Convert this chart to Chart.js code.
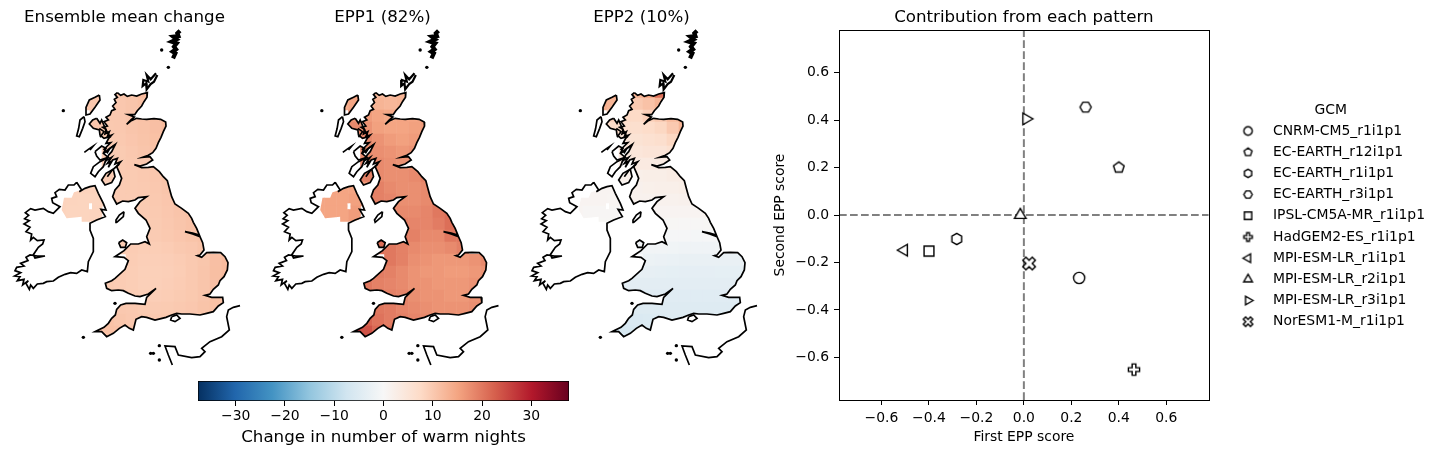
<!DOCTYPE html>
<html>
<head>
<meta charset="utf-8">
<title>EPP warm nights</title>
<script src="https://cdn.jsdelivr.net/npm/chart.js@4"></script>
<style>
  html, body { margin: 0; padding: 0; background: #fff; overflow: hidden; }
  canvas { position: absolute; }
</style>
</head>
<body>
<canvas id="map0" width="249" height="370" style="left:0;top:0"></canvas>
<canvas id="map1" width="249" height="370" style="left:258px;top:0"></canvas>
<canvas id="map2" width="249" height="370" style="left:517px;top:0"></canvas>
<canvas id="colorbar" width="450" height="82" style="left:160px;top:372px"></canvas>
<canvas id="scatter" width="670" height="454" style="left:770px;top:0"></canvas>
<script>
// DATA

const _ = null;

const modelNames = ["CNRM-CM5_r1i1p1", "EC-EARTH_r12i1p1", "EC-EARTH_r1i1p1", "EC-EARTH_r3i1p1", "IPSL-CM5A-MR_r1i1p1",
  "HadGEM2-ES_r1i1p1", "MPI-ESM-LR_r1i1p1", "MPI-ESM-LR_r2i1p1", "MPI-ESM-LR_r3i1p1", "NorESM1-M_r1i1p1"];
const modelMarkers = ["circle", "pentagon", "hexPointy", "hexFlat", "square", "plus", "triLeft", "triUp", "triRight", "cross"];
const firstScores = [0.233, 0.40, -0.283, 0.26, -0.40, 0.464, -0.505, -0.015, 0.01, 0.022];
const secondScores = [-0.265, 0.20, -0.101, 0.454, -0.152, -0.651, -0.148, 0.0, 0.405, -0.204];

const mapTitles = ["Ensemble mean change", "EPP1 (82%)", "EPP2 (10%)"];
const colorStops = ["#053061", "#2166ac", "#4393c3", "#92c5de", "#d1e5f0", "#f7f7f7", "#fddbc7", "#f4a582", "#d6604d", "#b2182b", "#67001f"];
const colorLimit = 37.65;
const colorTicks = [-30, -20, -10, 0, 10, 20, 30];

// grid of the change cells, map units
const cellCols = [180, 216, 252, 288, 324, 360, 396, 432, 468, 504, 540, 576, 612, 648, 684];
const cellRows = [216, 252, 288, 324, 360, 396, 432, 468, 504, 540, 576, 612, 648, 684, 720, 756, 792, 828, 864, 900, 936];

const meanChange = [
  [_, _, _, 10.5, 10.8, 10.6, 10.8, 12],
  [_, _, 10.5, 10.5, 10.4, 10.3, 10.6, 11.2],
  [_, _, _, 10.5, 10.2, 10.2, 10.6, 11, 11.5, 12.5],
  [_, _, _, 10.4, 10, 10.2, 10.6, 10.9, 11.4, 12.2],
  [_, _, _, _, 9.8, 10, 10.4, 10.8, 11.2],
  [_, _, _, _, 9.6, 9.8, 10.2, 10.6, 11],
  [_, _, _, _, 9.6, 9.8, 10, 10.2, 10.5],
  [_, _, _, _, 9.6, 9.7, 9.8, 10, 10.3, 10.8],
  [_, 8.6, 8.6, 8.6, 8.7, 9.7, 9.8, 9.9, 10.2, 10.6, 11],
  [8.6, 8.5, 8.4, 8.4, 8.6, 9.7, 9.7, 9.8, 10, 10.4, 10.8],
  [8.6, 8.4, 8.4, 8.5, _, _, 9.6, 9.7, 9.9, 10.3, 10.7, 11.2],
  [_, 8.4, 8.4, 8.5, _, _, _, 9.6, 9.8, 10.2, 10.6, 11],
  [_, _, _, _, _, 10.2, _, 9.5, 9.7, 10, 10.4, 10.8, 11],
  [_, _, _, _, _, 9.8, 9.6, 9.4, 9.4, 9.6, 10, 10.3, 10.8],
  [_, _, _, _, _, _, 9.5, 9.2, 9.2, 9.3, 9.6, 10, 10.5, 11.4, 12],
  [_, _, _, _, _, 9.6, 9.4, 9.1, 9.1, 9.2, 9.5, 10, 10.6, 11.5, 12],
  [_, _, _, _, 9.8, 9.6, 9.4, 9.1, 9.1, 9.3, 9.6, 10, 10.6, 11.4],
  [_, _, _, _, 10, 9.8, 9.5, 9.3, 9.3, 9.5, 9.8, 10.1, 10.6, 11.2, 11.4],
  [_, _, _, _, _, 10.2, 10, 9.8, 9.7, 9.8, 10, 10.3, 10.8, 11.2],
  [_, _, _, _, 11, 10.5, 10.2, 10.1, 10, 10.1, 10.3, 10.6, 11],
  [_, _, _, 11.4, 11.2, 11, 10.8]
];

const epp1Change = [
  [_, _, _, 15, 12.5, 12, 12, 13],
  [_, _, 14, 15, 14, 13, 12.5, 13],
  [_, _, _, 17, 16, 15, 14.5, 15, 15, 16],
  [_, _, _, 18, 17, 15.5, 15, 15, 15.5, 16],
  [_, _, _, _, 18, 17, 16, 15.5, 16],
  [_, _, _, _, 18, 17.5, 17, 16.5, 17],
  [_, _, _, _, 19, 18, 17.5, 17, 17.5],
  [_, _, _, _, 19, 18, 17.5, 17.5, 18, 19],
  [_, 15, 15, 15, 16, 19, 18, 17.5, 17.5, 18, 19],
  [15, 15, 15, 15.5, 16.5, 19, 18.5, 17.5, 17.5, 18, 20],
  [15, 15, 15, 16, _, _, 19, 18, 18, 18.5, 20, 21],
  [_, 15, 15, 16, _, _, _, 19, 18.5, 18.5, 19.5, 21],
  [_, _, _, _, _, 27, _, 19.5, 19, 18, 18, 20, 20],
  [_, _, _, _, _, 21, 20, 19, 18, 17.5, 17.5, 18, 19],
  [_, _, _, _, _, _, 20, 19, 17.5, 17, 16.5, 16.5, 16.5, 17, 18],
  [_, _, _, _, _, 19.5, 19, 18, 17, 16.5, 16.5, 16, 16, 16.5, 17],
  [_, _, _, _, 20, 19, 18.5, 18, 17, 17, 16.5, 16.5, 16.5, 17],
  [_, _, _, _, 20, 19.5, 19, 18.5, 17.5, 17, 17, 16.5, 16.5, 17, 17.5],
  [_, _, _, _, _, 20, 19.5, 18.5, 18, 17.5, 17, 17, 17, 17.5],
  [_, _, _, _, 22, 20.5, 19.5, 19, 18.5, 18, 17.5, 17.5, 18],
  [_, _, _, 27, 24, 21.5, 20.5]
];

const epp2Change = [
  [_, _, _, 15, 14, 13, 15, 21],
  [_, _, 14, 13, 10, 10, 11, 13],
  [_, _, _, 9, 7.5, 7.5, 9, 10, 12, 15],
  [_, _, _, 7, 6.5, 6.5, 7, 8, 10, 13],
  [_, _, _, _, 5, 5.5, 6, 6.5, 8],
  [_, _, _, _, 4, 4.5, 5, 5, 6],
  [_, _, _, _, 3, 3.5, 3.5, 3.5, 4],
  [_, _, _, _, 2, 2.2, 2.5, 2.5, 3, 3],
  [_, 1, 1, 1, 1, 1.8, 2, 2.2, 2.2, 2.5, 2.5],
  [1, 1, 1, 0.8, 0.8, 1.5, 1.5, 1.6, 1.6, 1.8, 2],
  [0.8, 0.5, 0.5, 0.5, _, _, 1, 1, 1, 1, 1, 1.2],
  [_, 0.4, 0.4, 0.4, _, _, _, 0.5, 0.4, 0.3, 0.3, 0.4],
  [_, _, _, _, _, 0.3, _, 0, -0.3, -0.4, -0.5, -0.4, -0.4],
  [_, _, _, _, _, -1.2, -1.2, -1.2, -1.4, -1.6, -1.6, -1.6, -1.4],
  [_, _, _, _, _, _, -2.2, -2.4, -2.6, -2.8, -2.8, -2.8, -2.8, -2.8, -2.8],
  [_, _, _, _, _, -3.2, -3.2, -3.4, -3.5, -3.6, -3.6, -3.6, -3.5, -3.5, -3.5],
  [_, _, _, _, -4, -4, -4, -4, -4, -4, -4, -4, -4, -4],
  [_, _, _, _, -4.6, -4.6, -4.6, -4.5, -4.6, -4.6, -4.6, -4.6, -4.5, -4.5, -4.5],
  [_, _, _, _, _, -5, -5, -5, -5, -5, -5, -5, -5, -5],
  [_, _, _, _, -5.8, -5.8, -5.6, -5.4, -5.2, -5.2, -5.2, -5.2, -5.2],
  [_, _, _, -6.4, -6.4, -6.2, -6]
];

const changeFields = [meanChange, epp1Change, epp2Change];

// coast outlines, map units (x east, y south)
const gbCoast = [[352,218],[362,226],[372,222],[382,229],[395,225],[410,228],[425,222],[442,218],[441,232],[432,245],[425,258],[412,272],[404,284],[385,284],[403,291],[392,300],[380,313],[392,303],[410,295],[425,297],[440,298],[462,296],[482,298],[497,306],[498,318],[490,335],[483,352],[475,368],[468,385],[458,398],[445,406],[428,412],[450,410],[458,420],[440,432],[420,438],[403,434],[425,443],[445,442],[460,440],[478,455],[490,470],[502,482],[508,505],[515,530],[525,552],[545,565],[565,580],[575,595],[580,607],[590,625],[598,645],[578,639],[555,635],[578,642],[600,650],[608,668],[612,690],[600,705],[592,707],[605,712],[620,698],[640,697],[662,698],[675,710],[684,728],[682,750],[672,770],[660,782],[655,795],[640,808],[630,822],[615,826],[635,832],[668,832],[670,848],[655,858],[640,875],[620,880],[600,885],[570,882],[545,882],[530,880],[515,885],[498,892],[465,900],[440,892],[425,890],[408,898],[400,930],[388,925],[375,915],[358,925],[340,940],[320,950],[305,935],[285,935],[295,930],[312,922],[325,910],[335,895],[346,885],[350,868],[362,855],[378,850],[405,850],[435,853],[440,832],[468,805],[445,822],[420,830],[405,828],[385,820],[370,812],[355,810],[335,812],[320,805],[316,790],[335,782],[345,775],[375,748],[385,722],[372,712],[345,710],[372,692],[392,672],[415,672],[435,665],[448,672],[440,650],[450,625],[438,600],[415,580],[405,565],[420,545],[440,530],[415,533],[405,540],[385,545],[368,543],[350,552],[338,530],[345,510],[358,495],[365,475],[358,458],[350,440],[362,425],[345,432],[352,415],[338,420],[325,442],[332,425],[322,430],[335,412],[318,422],[326,405],[335,395],[346,373],[330,385],[322,398],[312,388],[322,378],[332,368],[318,370],[326,355],[335,345],[322,350],[328,335],[315,342],[318,328],[308,322],[322,318],[312,305],[325,300],[318,292],[330,285],[335,272],[345,268],[338,258],[348,248],[343,238],[352,232],[345,224]];
const irelandCoast = [[230,487],[245,510],[238,515],[255,505],[270,500],[285,497],[295,520],[310,550],[318,570],[303,568],[316,590],[290,600],[270,610],[270,630],[280,655],[280,695],[265,725],[262,755],[245,750],[230,760],[212,758],[195,763],[175,772],[160,783],[140,785],[130,790],[112,792],[100,805],[92,795],[88,808],[78,790],[85,782],[68,795],[72,778],[52,782],[60,770],[44,768],[62,758],[45,752],[50,742],[72,738],[62,730],[84,722],[78,712],[90,705],[112,708],[135,708],[105,714],[100,704],[115,682],[128,672],[132,660],[112,662],[100,652],[92,660],[95,642],[78,635],[90,622],[72,612],[88,602],[74,596],[86,586],[76,578],[92,566],[105,570],[130,565],[145,575],[160,580],[180,560],[158,548],[155,535],[170,530],[165,518],[178,508],[195,510],[205,495],[222,495]];
const lewisCoast = [[298,225],[300,240],[285,262],[270,282],[258,285],[258,262],[268,240],[285,232]];
const uistCoast = [[252,290],[255,305],[248,325],[238,350],[230,348],[236,325],[240,300]];
const skyeCoast = [[290,295],[300,310],[305,300],[318,330],[330,350],[312,355],[300,345],[298,330],[280,325],[268,312],[278,300]];
const mullCoast = [[285,395],[305,378],[318,385],[310,400],[325,412],[300,420],[290,408]];
const juraCoast = [[300,425],[320,415],[310,440],[295,455],[285,470],[272,460],[280,440]];
const kintyreCoast = [[340,448],[345,470],[335,488],[315,495],[305,480],[318,460]];
const angleseyCoast = [[356,668],[368,660],[380,668],[376,682],[362,682]];
const manCoast = [[372,575],[370,590],[350,607],[348,600],[358,585]];
const wightCoast = [[515,890],[530,885],[540,895],[525,905],[512,900]];
const orkneyCoast = [[468,160],[452,178],[440,165],[445,185],[430,180],[428,198],[438,190],[440,208],[452,192],[462,185],[472,165]];
const shetlandCoast = [[540,32],[532,40],[535,48],[520,50],[530,58],[515,65],[530,70],[522,80],[528,88],[518,95],[526,100],[519,115]];
const collCoast = [[253,397],[265,388],[280,378],[270,390]];
const lochOne = [[345,375],[325,388],[312,400]];
const lochTwo = [[358,432],[335,452],[322,470]];
const lochThree = [[298,325],[312,335],[300,352]];
const franceCoast = [[720,857],[700,862],[685,870],[680,890],[688,930],[665,950],[630,965],[605,985],[615,995],[600,1010],[575,1013],[535,1005],[525,980],[495,978],[505,1005],[517,1035]];
const islandDots = [[485,90],[505,142],[190,272],[250,952],[345,850],[460,1000],[478,1020],[478,977],[452,1000]];

// NI part of the Irish coast that has cells, blocky like the grid
const niCells = [[192,533],[215,533],[222,517],[245,510],[285,497],[310,550],[318,572],[300,600],[270,605],[245,605],[245,590],[200,595],[185,570]];
const niNotch = [[267,550],[276,550],[276,568],[267,568]];

const closedCoasts = [gbCoast, irelandCoast, lewisCoast, uistCoast, skyeCoast, mullCoast, juraCoast, kintyreCoast, angleseyCoast, manCoast, wightCoast];
const openCoasts = [franceCoast, collCoast, lochOne, lochTwo, lochThree];
const cellMasks = [gbCoast, lewisCoast, uistCoast, skyeCoast, mullCoast, juraCoast, kintyreCoast, angleseyCoast, niCells, niNotch];

// COLOUR

function hexToRgb(hex) {
  return [1, 3, 5].map(i => parseInt(hex.slice(i, i + 2), 16));
}

function colorFor(value) {
  const pos = (value + colorLimit) / (2 * colorLimit) * (colorStops.length - 1);
  const low = Math.max(0, Math.min(colorStops.length - 2, Math.floor(pos)));
  const t = pos - low;
  const a = hexToRgb(colorStops[low]);
  const b = hexToRgb(colorStops[low + 1]);
  const mix = a.map((c, i) => Math.round(c + (b[i] - c) * t));
  return `rgb(${mix[0]},${mix[1]},${mix[2]})`;
}

// MAP PANELS

const fontFamily = "'DejaVu Sans'";
Chart.defaults.font.family = fontFamily;
Chart.defaults.color = "#000";
Chart.defaults.animation = false;

function toPoints(list) {
  return list.map(p => ({ x: p[0], y: p[1] }));
}

function coastDataset(list, closed, width) {
  const pts = toPoints(closed ? list.concat([list[0]]) : list);
  return { data: pts, showLine: true, borderColor: "#000", borderWidth: width, pointRadius: 0, fill: false, order: 1 };
}

function cellPoints(field) {
  const pts = [];
  field.forEach((row, j) => {
    row.forEach((v, i) => {
      if (v !== null) pts.push({ x: cellCols[i], y: cellRows[j], v: v });
    });
  });
  return pts;
}

// the cells only show inside the land outlines
const maskPlugin = {
  id: "cellMask",
  beforeDatasetDraw(chart, args) {
    if (args.index !== 0) return;
    const ctx = chart.ctx;
    const xs = chart.scales.x, ys = chart.scales.y;
    ctx.save();
    ctx.beginPath();
    cellMasks.forEach(ring => {
      ring.forEach((p, i) => {
        const px = xs.getPixelForValue(p[0]), py = ys.getPixelForValue(p[1]);
        if (i === 0) ctx.moveTo(px, py); else ctx.lineTo(px, py);
      });
      ctx.closePath();
    });
    ctx.clip("evenodd");
  },
  afterDatasetDraw(chart, args) {
    if (args.index === 0) chart.ctx.restore();
  }
};

const panelShift = [0, -1.5, 0];

mapTitles.forEach((title, n) => {
  const datasets = [{
    data: cellPoints(changeFields[n]),
    pointStyle: "rect",
    pointRadius: 8.9,
    pointBorderWidth: 0,
    pointBackgroundColor: c => colorFor(c.raw.v),
    order: 2
  }];
  closedCoasts.forEach(c => datasets.push(coastDataset(c, true, 1.7)));
  openCoasts.forEach(c => datasets.push(coastDataset(c, false, 1.7)));
  datasets.push(coastDataset(orkneyCoast, false, 2.2));
  datasets.push(coastDataset(shetlandCoast, false, 4.2));
  datasets.push({ data: toPoints(islandDots), pointRadius: 1.7, pointBackgroundColor: "#000", pointBorderWidth: 0, order: 1 });

  new Chart(document.getElementById("map" + n), {
    type: "scatter",
    data: { datasets },
    plugins: [maskPlugin],
    options: {
      responsive: false,
      layout: { padding: 0, autoPadding: false },
      plugins: {
        legend: { display: false },
        tooltip: { enabled: false },
        title: { display: true, text: title, font: { size: 16.67, weight: "normal" }, padding: { top: 7.5, bottom: 0 } }
      },
      scales: {
        x: { type: "linear", display: false, min: panelShift[n], max: 747 + panelShift[n] },
        y: { type: "linear", display: false, reverse: true, min: 22.5, max: 1050 }
      }
    }
  });
});

// COLOURBAR

new Chart(document.getElementById("colorbar"), {
  type: "bar",
  data: {
    labels: [""],
    datasets: [{
      data: [[-colorLimit, colorLimit]],
      borderColor: "#000",
      borderWidth: 1,
      borderSkipped: false,
      barPercentage: 1,
      categoryPercentage: 1,
      backgroundColor: c => {
        const xs = c.chart.scales.x;
        if (!xs || !Number.isFinite(xs.left) || !Number.isFinite(xs.right)) return "#fff";
        const g = c.chart.ctx.createLinearGradient(xs.left, 0, xs.right, 0);
        colorStops.forEach((col, i) => g.addColorStop(i / (colorStops.length - 1), col));
        return g;
      }
    }]
  },
  options: {
    indexAxis: "y",
    responsive: false,
    layout: { padding: { left: 38, right: 41, top: 9 }, autoPadding: false },
    plugins: { legend: { display: false }, tooltip: { enabled: false } },
    scales: {
      y: { display: false },
      x: {
        type: "linear",
        min: -colorLimit,
        max: colorLimit,
        afterFit(scale) { scale.height = 53; },
        afterBuildTicks(scale) { scale.ticks = colorTicks.map(v => ({ value: v })); },
        grid: { drawOnChartArea: false, color: "#000", tickLength: 5 },
        border: { display: false },
        ticks: {
          autoSkip: false, maxRotation: 0, padding: 2, font: { size: 13.9 },
          callback: v => String(v).replace("-", "\u2212")
        },
        title: { display: true, text: "Change in number of warm nights", font: { size: 16.67 }, padding: { top: 2, bottom: 6 } }
      }
    }
  }
});

// SCATTER

function markerPath(ctx, name, r) {
  const poly = (n, start, grow) => {
    for (let i = 0; i < n; i++) {
      const a = start + i * 2 * Math.PI / n;
      ctx.lineTo(r * grow * Math.cos(a), r * grow * Math.sin(a));
    }
    ctx.closePath();
  };
  const path = pts => {
    pts.forEach(p => ctx.lineTo(p[0] * r, p[1] * r));
    ctx.closePath();
  };
  const plusArm = [[-0.33, -1], [0.33, -1], [0.33, -0.33], [1, -0.33], [1, 0.33], [0.33, 0.33], [0.33, 1], [-0.33, 1], [-0.33, 0.33], [-1, 0.33], [-1, -0.33], [-0.33, -0.33]];
  ctx.beginPath();
  if (name === "circle") ctx.arc(0, 0, r, 0, 2 * Math.PI);
  if (name === "pentagon") poly(5, -Math.PI / 2, 1);
  if (name === "hexPointy") poly(6, -Math.PI / 2, 1);
  if (name === "hexFlat") poly(6, 0, 1);
  if (name === "square") ctx.rect(-r * 0.88, -r * 0.88, r * 1.76, r * 1.76);
  if (name === "plus") path(plusArm);
  if (name === "cross") {
    const c = Math.SQRT1_2 * 1.2;
    path(plusArm.map(p => [(p[0] - p[1]) * c, (p[0] + p[1]) * c]));
  }
  if (name === "triUp") poly(3, -Math.PI / 2, 1.2);
  if (name === "triLeft") poly(3, Math.PI, 1.2);
  if (name === "triRight") poly(3, 0, 1.2);
}

// shift moves the marker off the centre of its image, used in the legend rows
function makeMarker(name, r, lw, shift) {
  const size = Math.ceil(r * 2.6 + lw + 4) + 2 * shift;
  const cv = document.createElement("canvas");
  cv.width = size;
  cv.height = size;
  const ctx = cv.getContext("2d");
  ctx.translate(size / 2 + shift, size / 2);
  markerPath(ctx, name, r);
  ctx.fillStyle = "#fff";
  ctx.fill();
  ctx.strokeStyle = "#000";
  ctx.lineWidth = lw;
  ctx.lineJoin = "miter";
  ctx.stroke();
  return cv;
}

const plotMarkers = modelMarkers.map(m => makeMarker(m, 5.6, 1.4, 0));
const legendMarkers = modelMarkers.map(m => makeMarker(m, 4.2, 1.4, 7));

const scatterSets = modelNames.map((name, i) => ({
  label: name,
  data: [{ x: firstScores[i], y: secondScores[i] }],
  pointStyle: plotMarkers[i],
  pointRadius: 6,
  order: 1
}));
const axisLimit = 0.779;
const refLine = pts => ({ data: pts, showLine: true, borderColor: "#808080", borderWidth: 2, borderDash: [7.7, 3.3], pointRadius: 0, order: 2 });
scatterSets.push(refLine([{ x: -axisLimit, y: 0 }, { x: axisLimit, y: 0 }]));
scatterSets.push(refLine([{ x: 0, y: -axisLimit }, { x: 0, y: axisLimit }]));

const framePlugin = {
  id: "frame",
  afterDraw(chart) {
    const a = chart.chartArea, ctx = chart.ctx;
    ctx.save();
    ctx.strokeStyle = "#000";
    ctx.lineWidth = 1;
    ctx.strokeRect(Math.round(a.left) + 0.5, Math.round(a.top) + 0.5, Math.round(a.right - a.left), Math.round(a.bottom - a.top));
    ctx.restore();
  }
};

const scoreTick = v => v.toFixed(1).replace("-", "\u2212");

function scoreAxis(text, fit, tickPad) {
  return {
    type: "linear",
    min: -axisLimit,
    max: axisLimit,
    afterFit: fit,
    grid: { drawOnChartArea: false, color: "#000", tickLength: 5 },
    border: { display: false },
    ticks: { stepSize: 0.2, includeBounds: false, autoSkip: false, maxRotation: 0, padding: tickPad, font: { size: 13.9 }, callback: scoreTick },
    title: { display: true, text: text, font: { size: 13.9 }, padding: { top: 2, bottom: 8 } }
  };
}

new Chart(document.getElementById("scatter"), {
  type: "scatter",
  data: { datasets: scatterSets },
  plugins: [framePlugin],
  options: {
    responsive: false,
    layout: { padding: { right: 5 }, autoPadding: false },
    plugins: {
      tooltip: { enabled: false },
      title: {
        display: true, text: "Contribution from each pattern", fullSize: false,
        font: { size: 16.67, weight: "normal" }, padding: { top: 7.5, bottom: 2.5 }
      },
      legend: {
        position: "right",
        fullSize: false,
        maxWidth: 260,
        title: { display: true, text: "\u00a0\u00a0\u00a0\u00a0GCM", font: { size: 13.9 }, padding: { top: 9, bottom: -3 } },
        labels: {
          usePointStyle: true,
          pointStyleWidth: 50,
          padding: 7.3,
          font: { size: 13.9 },
          color: "#000",
          filter: item => item.datasetIndex < modelNames.length,
          generateLabels(chart) {
            const items = Chart.defaults.plugins.legend.labels.generateLabels(chart);
            items.forEach(it => {
              if (it.datasetIndex < modelNames.length) it.pointStyle = legendMarkers[it.datasetIndex];
            });
            return items;
          }
        }
      }
    },
    scales: {
      x: scoreAxis("First EPP score", s => { s.height = 54; }, 5),
      y: scoreAxis("Second EPP score", s => { s.width = 69; }, 5)
    }
  }
});
</script>
</body>
</html>
